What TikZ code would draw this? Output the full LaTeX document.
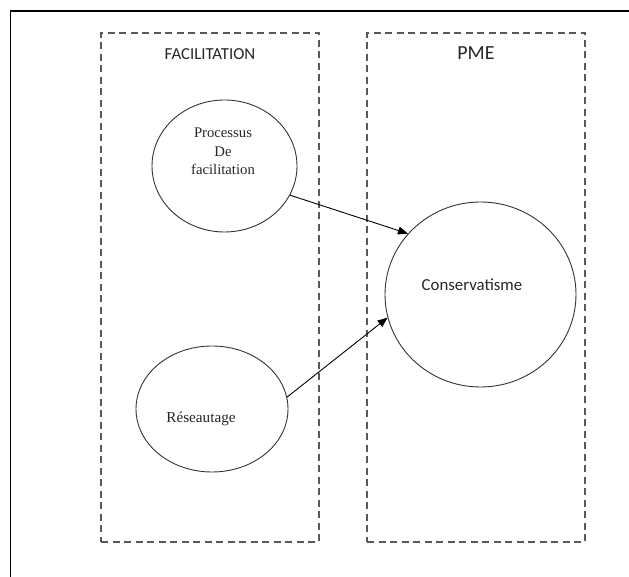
\documentclass[tikz,border=0pt]{standalone}
\usepackage{fontspec}
\setmainfont{Liberation Serif}
\newfontfamily\calibri{Carlito}
\usetikzlibrary{
  arrows.meta,      % filled triangle tips
  positioning,      % right=of, below=of
  shapes.geometric  % ellipse nodes
}
\tikzset{
  x=1pt, y=1pt,
  node distance=48pt,
  zone/.style = {
    rectangle,
    draw=black!65,
    line width=1.1pt,
    dash pattern=on 7pt off 4.5pt,
    minimum width=218pt,
    minimum height=509pt,
    inner sep=0pt,
    outer sep=0pt
  },
  bulle/.style = {ellipse, draw=black!80, line width=0.9pt, inner sep=0pt},
  titre/.style = {font=\calibri, inner sep=0pt, text=black!85},
  texte/.style = {inner sep=0pt, align=center, text=black!85},
  lien/.style = {line width=0.9pt},
  ->,        % arrows for all
  >={Triangle[length=10pt,width=8pt]}
}

\begin{document}
\begin{tikzpicture}
  \useasboundingbox (0,0) rectangle (629,577);

  %% frame
  \draw[-,line width=1.2pt] (10.5,0) -- (10.5,566) -- (629,566);

  %% zones
  \node[zone] (fac) at (210,289.5) {};
  \node[zone] (pme) [right=of fac] {};

  \node[titre,font=\calibri\fontsize{16.8}{20}\selectfont] (facT) [below=15.5pt of fac.north] {FACILITATION};
  \node[titre,font=\calibri\fontsize{20}{24}\selectfont] (pmeT) [below=13.5pt of pme.north] {PME};

  %% nodes
  \node[bulle,minimum width=145pt,minimum height=132pt] (proc) at (224.5,411) {};
  \node[bulle,minimum width=152pt,minimum height=126pt] (res)  at (212,168) {};
  \node[bulle,minimum width=191pt,minimum height=185pt] (cons) at (480.5,282.5) {};

  \node[texte,font=\fontsize{14.7}{18.5}\selectfont] (procT) at ([shift={(-1.5,14.5)}]proc.center) {Processus\\De\\facilitation};
  \node[texte,font=\fontsize{15.2}{18}\selectfont] (resT) at ([shift={(-11,-10)}]res.center) {Réseautage};
  \node[texte,font=\calibri\fontsize{16.8}{20}\selectfont] (consT) at ([shift={(-8.5,9.5)}]cons.center) {Conservatisme};

  %% arrows
  \draw[lien] (proc.-24) to (cons.140);
  \draw[lien] (res.9) to (cons.194);

\end{tikzpicture}
\end{document}
